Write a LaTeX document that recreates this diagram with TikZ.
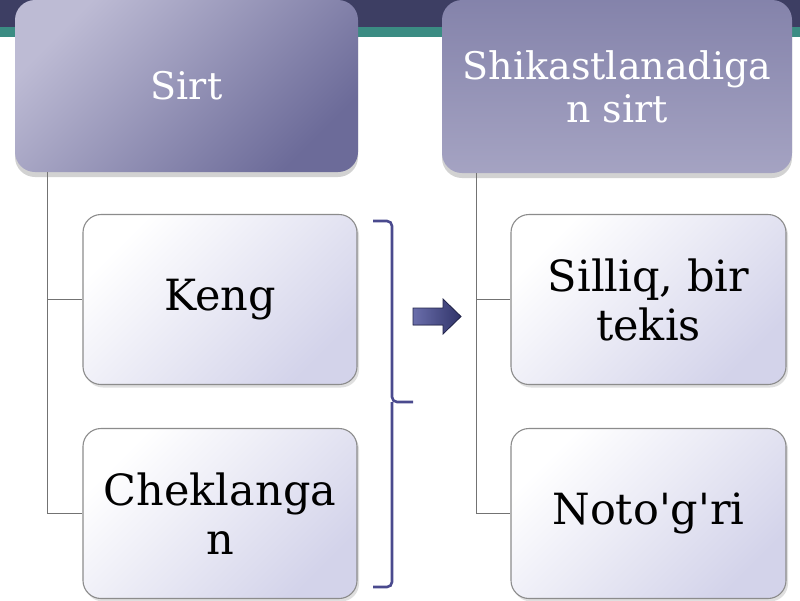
\documentclass[tikz,border=0pt]{standalone}
\usepackage{fontspec}
\setmainfont{DejaVu Serif}
\usepackage{tikz}
\usetikzlibrary{positioning,calc,shadows}
\definecolor{bandnavy}{HTML}{3D3E63}
\definecolor{bandteal}{HTML}{3B8C83}
\definecolor{headlight}{HTML}{BDBBD4}
\definecolor{headdark}{HTML}{6C6B99}
\definecolor{leafshade}{HTML}{D3D3EA}
\definecolor{bracepurple}{HTML}{4A4A8E}
\definecolor{arrowblue}{HTML}{454A96}

\begin{document}
\begin{tikzpicture}[x=1pt,y=-1pt,
		head/.style={rectangle,rounded corners=20pt,text=white,align=center,
			font=\fontsize{38}{43}\selectfont,
			drop shadow={opacity=0.35,shadow xshift=0pt,shadow yshift=-5pt}},
		leaf/.style={rectangle,rounded corners=18pt,draw=black!45,line width=1.1pt,
			align=center,font=\fontsize{43}{49}\selectfont,
			top color=white,bottom color=leafshade,shading angle=45,
			minimum width=274pt,minimum height=170pt,
			drop shadow={opacity=0.25,shadow xshift=2pt,shadow yshift=-3pt}},
		link/.style={black!55,line width=1.3pt}]
		
		\useasboundingbox (0,0) rectangle (800,600);
		\fill[white] (0,0) rectangle (800,600);
		\fill[bandnavy] (0,0) rectangle (800,27);
		\fill[bandteal] (0,27) rectangle (800,37);
		
		\node[head,minimum width=343pt,minimum height=172pt,
			top color=headlight,bottom color=headdark,shading angle=45] (A) at (186.5,86) {Sirt};
		\node[head,minimum width=350pt,minimum height=173pt,
			top color=headdark!70!headlight,middle color=headlight!85!headdark,bottom color=headlight!70!headdark] (D) at (617,86.5) {Shikastlanadiga\\n sirt};
		
		\node[leaf] (B) at (220,299.5) {Keng};
		\node[leaf] (C) at (220,513.5) {Cheklanga\\n};
		\node[leaf,minimum width=275pt] (E) at (648.5,299.5) {Silliq, bir\\tekis};
		\node[leaf,minimum width=275pt] (F) at (648.5,513.5) {Noto\textquotesingle g\textquotesingle ri};
		
		\coordinate (Below A) at ($(A.south west)+(33,0)$);
		\coordinate (Below D) at ($(D.south west)+(35,0)$);
		
		\draw[link] (Below A) |- (B.west);
		\draw[link] (Below A) |- (C.west);
		\draw[link] (Below D) |- (E.west);
		\draw[link] (Below D) |- (F.west);
		
		%\draw [bracepurple,-latex,ultra thick] (B) -- (E);
		\coordinate (Brace top) at (373,221);
		\coordinate (Brace tip) at (413,402);
		\coordinate (Brace bottom) at (373,587);
		\draw[bracepurple,line width=2.6pt,rounded corners=5pt]
			(Brace top) -- (392,221) -- (392,402) -- (Brace tip)
			(392,402) -- (392,587) -- (Brace bottom);
		
		\fill[left color=arrowblue!80!white,right color=arrowblue!70!black,draw=arrowblue!50!black,line width=0.8pt]
			(413,308) -- (443,308) -- (443,299) -- (461,316.5) -- (443,334) -- (443,325) -- (413,325) -- cycle;
		
		\end{tikzpicture}
\end{document}
